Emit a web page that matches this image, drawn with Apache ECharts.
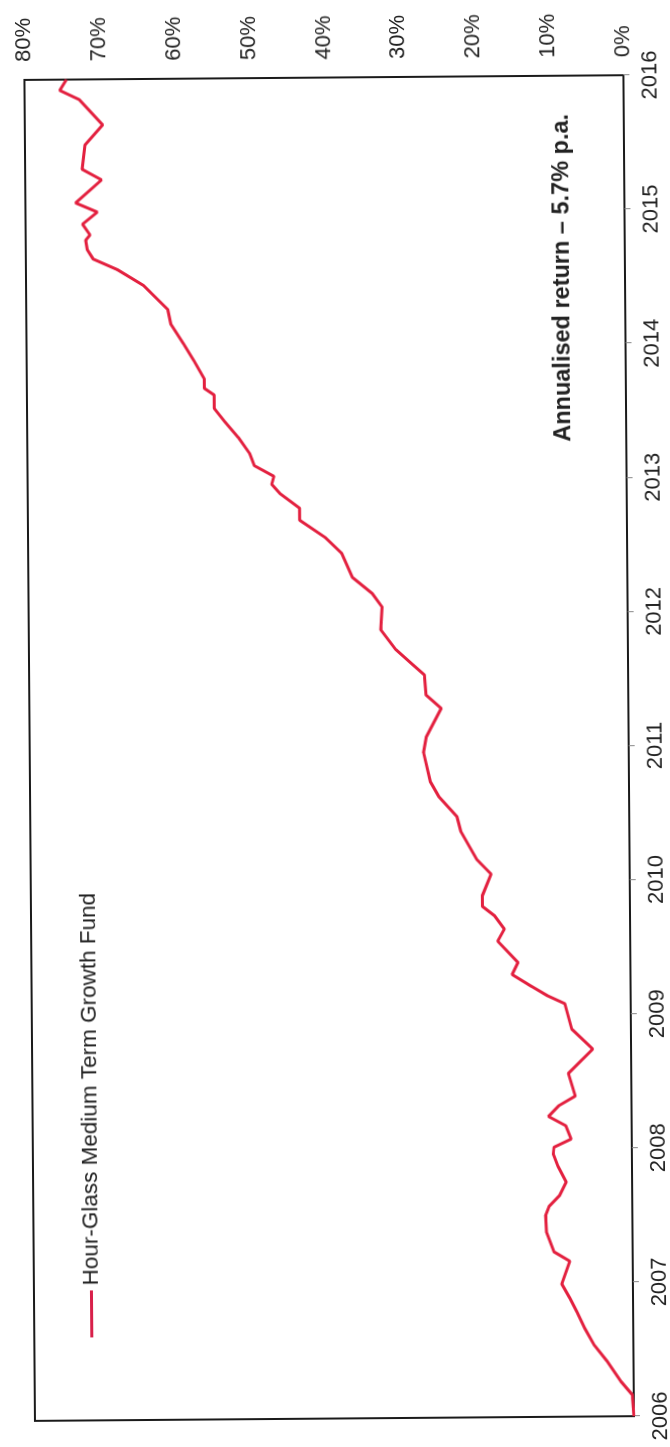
<!DOCTYPE html>
<html><head><meta charset="utf-8">
<script src="https://cdn.jsdelivr.net/npm/echarts@6/dist/echarts.min.js"></script>
<style>
html,body{margin:0;padding:0;background:#fff;width:670px;height:1447px;overflow:hidden;position:relative;}
#chart{position:absolute;left:-388.5px;top:388.5px;width:1447px;height:670px;transform-origin:50% 50%;transform:rotate(-90.45deg);}
</style></head><body><div id="chart"></div>
<script>
const seriesName = 'Hour-Glass Medium Term Growth Fund';
const annotation = 'Annualised return \u2013 5.7% p.a.';
const yearTicks = [2006,2007,2008,2009,2010,2011,2012,2013,2014,2015,2016];
const pctTicks = [0,10,20,30,40,50,60,70,80];
const dates = [2006.00,2006.16,2006.26,2006.41,2006.53,2006.66,2006.78,2006.88,2006.99,
  2007.16,2007.23,2007.38,2007.50,2007.57,2007.65,2007.75,2007.87,2007.96,
  2008.01,2008.07,2008.17,2008.24,2008.32,2008.39,2008.56,2008.74,2008.89,
  2009.08,2009.14,2009.21,2009.30,2009.39,2009.55,2009.64,2009.74,2009.81,2009.89,
  2010.05,2010.16,2010.37,2010.48,2010.63,2010.74,2010.96,
  2011.08,2011.29,2011.39,2011.54,2011.62,2011.73,2011.88,
  2012.05,2012.15,2012.27,2012.45,2012.57,2012.70,2012.79,2012.90,2012.97,
  2013.03,2013.11,2013.20,2013.32,2013.44,2013.54,2013.64,2013.69,2013.76,2013.89,
  2014.02,2014.17,2014.28,2014.46,2014.58,2014.66,2014.73,2014.80,2014.84,2014.92,
  2015.01,2015.08,2015.25,2015.33,2015.51,2015.66,2015.85,2015.92,2016.00];
const cumulativeReturn = [0.0,0.2,1.7,3.5,5.2,6.5,7.5,8.4,9.5,
  8.4,10.5,11.5,11.6,11.1,9.7,8.8,9.9,10.5,
  10.4,8.1,8.8,11.1,9.7,7.5,8.4,5.1,7.9,
  8.8,11.1,13.2,15.8,15.0,17.7,16.8,18.1,19.7,19.7,
  18.5,20.4,22.5,23.0,25.4,26.5,27.4,
  27.0,25.0,27.0,27.2,28.8,31.0,33.0,
  32.8,34.1,36.7,38.1,40.3,43.7,43.7,46.3,47.4,
  47.1,49.7,50.3,51.8,53.6,55.0,55.0,56.3,56.3,57.6,
  59.0,60.7,61.1,64.3,67.8,71.0,71.8,72.0,71.4,72.4,
  70.4,73.3,69.8,72.4,72.0,69.6,72.7,75.3,74.4];

const chart = echarts.init(document.getElementById('chart'), null, {renderer:'canvas'});
const FONT = '"Liberation Sans", Arial, Helvetica, sans-serif';
chart.setOption({
  animation:false,
  backgroundColor:'#ffffff',
  grid:{left:29,right:77,top:29,bottom:42,show:true,borderColor:'#1a1a1a',borderWidth:2,backgroundColor:'transparent'},
  legend:{data:[seriesName],left:107,top:70,padding:5,icon:'rect',itemWidth:47,itemHeight:3,itemGap:0,
    textStyle:{fontFamily:FONT,fontSize:22.5,color:'#222'}},
  xAxis:{type:'value',min:yearTicks[0],max:yearTicks[yearTicks.length-1],interval:1,
    axisLine:{show:false},splitLine:{show:false},
    axisTick:{show:true,length:6,lineStyle:{color:'#888'}},
    axisLabel:{fontFamily:FONT,fontSize:22,color:'#222',margin:16,formatter:v=>String(v)}},
  yAxis:{type:'value',position:'right',min:pctTicks[0],max:pctTicks[pctTicks.length-1],interval:10,
    axisLine:{show:false},splitLine:{show:false},axisTick:{show:false},
    axisLabel:{fontFamily:FONT,fontSize:22,color:'#222',margin:18,formatter:v=>v+'%'}},
  graphic:[{type:'text',x:1004,y:566,style:{text:annotation,font:'bold 23.5px '+FONT,fill:'#222',verticalAlign:'middle',align:'left'}}],
  series:[{name:seriesName,type:'line',showSymbol:false,smooth:false,
    lineStyle:{color:'#e3203f',width:3},itemStyle:{color:'#d8204a'},
    data:dates.map((d,i)=>[d,cumulativeReturn[i]])}]
});
</script></body></html>
